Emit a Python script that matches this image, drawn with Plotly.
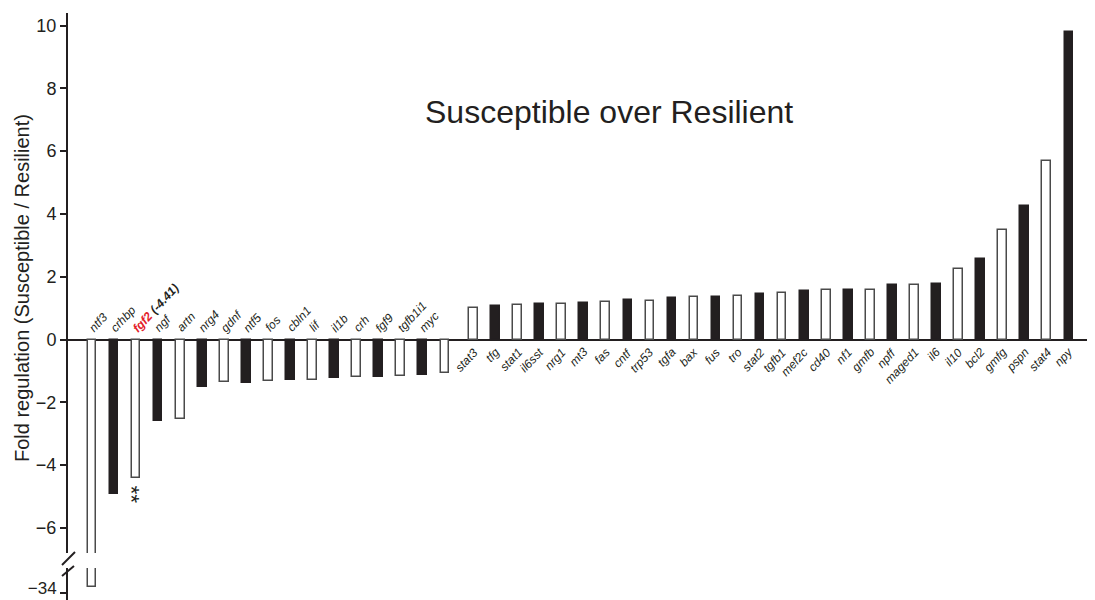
import plotly.graph_objects as go

# ---------------- data ----------------
neg_genes = ["ntf3", "crhbp", "fgf2", "ngf", "artn", "nrg4", "gdnf", "ntf5", "fos",
             "cbln1", "lif", "il1b", "crh", "fgf9", "tgfb1i1", "myc", ""]
neg_values = [-33.8, -4.93, -4.41, -2.61, -2.53, -1.52, -1.36, -1.38, -1.32,
              -1.30, -1.30, -1.24, -1.19, -1.21, -1.16, -1.14, -1.06]

pos_genes = ["stat3", "tfg", "stat1", "il6sst", "nrg1", "mt3", "fas", "cntf", "trp53",
             "tgfa", "bax", "fus", "tro", "stat2", "tgfb1", "mef2c", "cd40", "nf1",
             "gmfb", "npff", "maged1", "il6", "il10", "bcl2", "gmfg", "pspn", "stat4", "npy"]
pos_values = [1.00, 1.06, 1.09, 1.14, 1.14, 1.17, 1.20, 1.25, 1.23,
              1.31, 1.34, 1.34, 1.40, 1.44, 1.49, 1.53, 1.57, 1.57,
              1.59, 1.72, 1.72, 1.77, 2.26, 2.57, 3.50, 4.26, 5.67, 9.79]

highlight_gene = "fgf2"
highlight_text = "(-4.41)"
y_ticks_upper = [-6, -4, -2, 0, 2, 4, 6, 8, 10]
y_ticks_lower = [-34]

# ---------------- layout helpers ----------------
# the page body has an 8px margin, so the figure is drawn 8px right/down
OFF = 8
W, H = 1095 - OFF, 600 - OFF
L_REF, RIGHT_REF = 68, 1093          # plot area edges in window pixels
L = L_REF - OFF
R = W - (RIGHT_REF - OFF)
PW = W - L - R
GROUP_GAP = 0.3
BAR_W = 0.39
SPACING_PX = 22.05
FIRST_BAR_PX = 92
INK = "#231f20"
OUTLINE = "#4a4a4a"
FONT = "Liberation Sans, Arial, sans-serif"

genes = neg_genes + pos_genes
values = neg_values + pos_values
n_neg = len(neg_genes)
xpos = [i for i in range(n_neg)] + [n_neg + GROUP_GAP + j for j in range(len(pos_genes))]
fills = [("white" if i % 2 == 0 else INK) for i in range(n_neg)] + \
        [("white" if j % 2 == 0 else INK) for j in range(len(pos_genes))]
lines = [OUTLINE if f == "white" else INK for f in fills]


def px_x(p):
    """window pixel x -> paper fraction"""
    return (p - OFF - L) / PW


def px_y(p):
    """window pixel y -> paper fraction"""
    return (H - (p - OFF)) / H


fig = go.Figure()
for ax in ("y", "y2"):
    fig.add_trace(go.Bar(
        x=xpos, y=values, width=BAR_W, yaxis=ax,
        marker=dict(color=fills, line=dict(color=lines, width=1.5)),
        showlegend=False, hoverinfo="x+y",
    ))

annotations = []
label_font = dict(family=FONT, size=12, color=INK, style="italic")
ANGLE = -47
for x, g, v in zip(xpos, genes, values):
    if not g:
        continue
    if v < 0:
        text = g
        if g == highlight_gene:
            text = "<b><span style='color:#e3202a'>%s</span> %s</b>" % (g, highlight_text)
        annotations.append(dict(x=x - BAR_W / 2 - 0.22, y=0, xref="x", yref="y", text=text,
                                showarrow=False, textangle=ANGLE, xanchor="left",
                                yanchor="bottom", yshift=2, font=label_font))
    else:
        annotations.append(dict(x=x + BAR_W / 2 + 0.25, y=0, xref="x", yref="y", text=g,
                                showarrow=False, textangle=ANGLE, xanchor="right",
                                yanchor="top", yshift=-3, font=label_font))

# significance asterisks under fgf2 (stacked vertically by rotating the text)
hi = genes.index(highlight_gene)
annotations.append(dict(x=xpos[hi], y=values[hi], xref="x", yref="y", text="**",
                        showarrow=False, textangle=90, yanchor="top", xanchor="center",
                        yshift=-6, xshift=-5,
                        font=dict(family=FONT, size=22, color=INK)))

# title
annotations.append(dict(x=px_x(609), y=px_y(112), xref="paper", yref="paper",
                        text="Susceptible over Resilient", showarrow=False,
                        xanchor="center", yanchor="middle",
                        font=dict(family=FONT, size=32, color=INK)))
# y-axis title
annotations.append(dict(x=px_x(22), y=px_y(288), xref="paper", yref="paper",
                        text="Fold regulation (Susceptible / Resilient)", showarrow=False,
                        textangle=-90, xanchor="center", yanchor="middle",
                        font=dict(family=FONT, size=20, color=INK)))

# axis break marks
shapes = [
    dict(type="line", xref="paper", yref="paper", x0=px_x(62), y0=px_y(565), x1=px_x(75),
         y1=px_y(552), line=dict(color=INK, width=2)),
    dict(type="line", xref="paper", yref="paper", x0=px_x(62), y0=px_y(576), x1=px_x(74),
         y1=px_y(566), line=dict(color=INK, width=2)),
]

scale = 31.4  # px per unit
zero_px = 339.5
up_top, up_bot = 13, 553
lo_top, lo_bot = 568, 600
tick34_px = 593

axis_common = dict(showline=True, linecolor=INK, linewidth=2, ticks="outside",
                   ticklen=6, tickwidth=2, tickcolor=INK, showgrid=False,
                   automargin=False, fixedrange=True, ticklabeloverflow="allow")
tick_font = dict(family=FONT, size=18, color=INK)

fig.update_layout(
    width=W, height=H,
    margin=dict(l=L, r=R, t=0, b=0, autoexpand=False),
    plot_bgcolor="white", paper_bgcolor="white",
    bargap=0,
    xaxis=dict(range=[-(FIRST_BAR_PX - L_REF) / SPACING_PX,
                      (RIGHT_REF - FIRST_BAR_PX) / SPACING_PX],
               visible=False, anchor="y2", fixedrange=True, automargin=False),
    yaxis=dict(domain=[px_y(up_bot), px_y(up_top)],
               range=[-(up_bot - zero_px) / scale, (zero_px - up_top) / scale],
               tickvals=y_ticks_upper, zeroline=True, zerolinecolor=INK,
               zerolinewidth=2, tickfont=tick_font, **axis_common),
    yaxis2=dict(domain=[max(0, px_y(lo_bot)), px_y(lo_top)],
                range=[y_ticks_lower[0] - (lo_bot - tick34_px) / scale,
                       y_ticks_lower[0] + (tick34_px - lo_top) / scale],
                tickvals=y_ticks_lower, zeroline=False, ticklabelshift=-5,
                tickfont=dict(family=FONT, size=17, color=INK), **axis_common),
    annotations=annotations,
    shapes=shapes,
)

fig.write_html("out.html")
